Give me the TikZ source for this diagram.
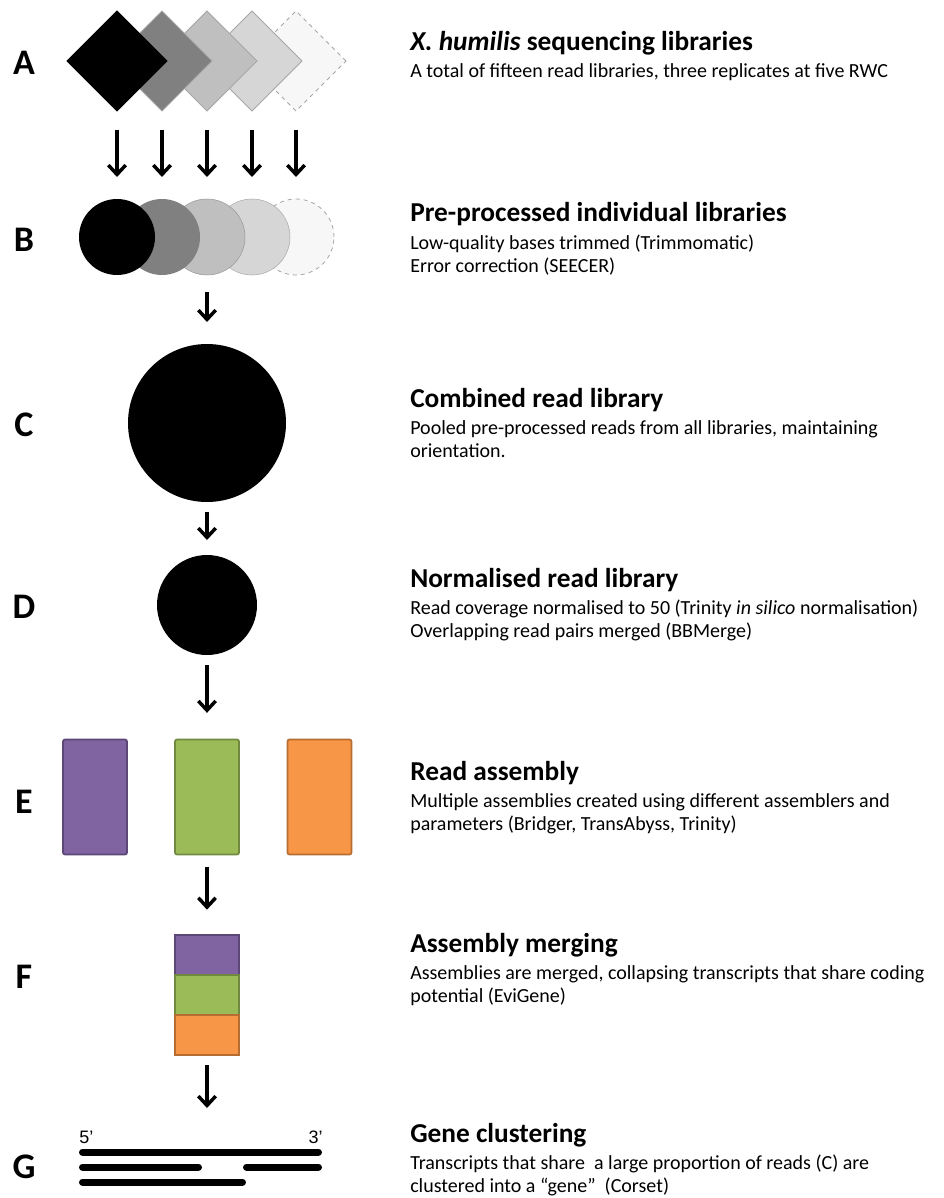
\documentclass[tikz,border=0pt]{standalone}
\usepackage{fontspec}
\setmainfont{Carlito}
\newfontfamily\arialfont{Liberation Sans}
\usetikzlibrary{arrows.meta,positioning,shapes.geometric}
\definecolor{shade1}{HTML}{000000}
\definecolor{shade2}{HTML}{808080}
\definecolor{shade3}{HTML}{BFBFBF}
\definecolor{shade4}{HTML}{D6D6D6}
\definecolor{shade5}{HTML}{F7F7F7}
\definecolor{rim}{HTML}{A6A6A6}
\definecolor{purple}{HTML}{8064A2}
\definecolor{purpleline}{HTML}{5C4776}
\definecolor{leaf}{HTML}{9BBB59}
\definecolor{leafline}{HTML}{71893F}
\definecolor{orange}{HTML}{F79646}
\definecolor{orangeline}{HTML}{B66D31}

\begin{document}
\begin{tikzpicture}[x=0.75pt,y=-0.75pt,
  letter/.style={font=\fontsize{27}{30}\selectfont\bfseries,anchor=center},
  title/.style={font=\fontsize{20.5}{24}\selectfont\bfseries,anchor=base west,inner sep=0},
  desc/.style={font=\fontsize{15}{17.6}\selectfont,anchor=base west,align=left,inner sep=0},
  lib/.style={diamond,minimum size=75pt,inner sep=0,outer sep=0,draw=rim,line width=0.6pt},
  read/.style={circle,inner sep=0,outer sep=0},
  block/.style={rectangle,rounded corners=1.5pt,minimum width=48pt,inner sep=0,outer sep=0,line width=1.3pt},
  arrow/.style={-{Straight Barb[length=7pt,width=13pt]},line width=2.6pt},
  strand/.style={line width=5.25pt,line cap=round}]
 \useasboundingbox (0,0) rectangle (943,1198);
 % stage letters
 \node[letter] (lA) at (24,63) {A};
 \node[letter] (lB) at (24,240) {B};
 \node[letter] (lC) at (24,425) {C};
 \node[letter] (lD) at (24,607) {D};
 \node[letter] (lE) at (24,802) {E};
 \node[letter] (lF) at (24,977) {F};
 \node[letter] (lG) at (24,1167) {G};
 % A: sequencing libraries (drawn back to front)
 \node[lib,fill=shade5,dashed] (dA5) at (296,61) {};
 \node[lib,fill=shade4] (dA4) at (252,61) {};
 \node[lib,fill=shade3] (dA3) at (207,61) {};
 \node[lib,fill=shade2] (dA2) at (162,61) {};
 \node[lib,fill=shade1,draw=black] (dA1) at (117,61) {};
 % B: pre-processed libraries
 \node[read,minimum size=57pt,fill=shade5,draw=rim,dashed,line width=0.6pt] (cB5) at (296,237) {};
 \node[read,minimum size=57pt,fill=shade4,draw=shade4!80!black,line width=0.4pt] (cB4) at (252,237) {};
 \node[read,minimum size=57pt,fill=shade3,draw=shade3!80!black,line width=0.4pt] (cB3) at (207,237) {};
 \node[read,minimum size=57pt,fill=shade2] (cB2) at (162,237) {};
 \node[read,minimum size=57pt,fill=shade1] (cB1) at (117,237) {};
 \foreach \i in {1,...,5}
  \draw[arrow,shorten <=14pt,shorten >=16.5pt] (dA\i) -- (cB\i);
 % C and D: combined and normalised
 \node[read,minimum size=118.5pt,fill=black] (cC) at (207,423) {};
 \node[read,minimum size=75pt,fill=black] (cD) at (207,605) {};
 \draw[arrow,shorten <=12.75pt,shorten >=16.5pt] (cB3) -- (cC);
 \draw[arrow,shorten <=7.5pt,shorten >=11.25pt] (cC) -- (cD);
 % E: assemblies
 \node[block,minimum height=86.25pt,fill=purple,draw=purpleline] (rE1) at (95,797) {};
 \node[block,minimum height=86.25pt,fill=leaf,draw=leafline] (rE2) at (207,797) {};
 \node[block,minimum height=86.25pt,fill=orange,draw=orangeline] (rE3) at (319.5,797) {};
 \draw[arrow,shorten <=7.5pt,shorten >=20pt] (cD) -- (rE2);
 % F: merged assembly
 \node[block,rounded corners=0pt,minimum height=30pt,fill=purple,draw=purpleline] (fF1) at (207,955) {};
 \node[block,rounded corners=0pt,minimum height=30pt,fill=leaf,draw=leafline] (fF2) at (207,995) {};
 \node[block,rounded corners=0pt,minimum height=30pt,fill=orange,draw=orangeline] (fF3) at (207,1035) {};
 \draw[arrow,shorten <=9pt,shorten >=19pt] (rE2) -- (fF1);
 % G: gene clusters
 \coordinate (gIn) at (207,1108);
 \draw[arrow,shorten <=7.5pt] (fF3) -- (gIn);
 \draw[strand] (82.5,1152) -- (318.5,1152);
 \draw[strand] (82.5,1167) -- (198.5,1167);
 \draw[strand] (246.5,1167) -- (318.5,1167);
 \draw[strand] (82.5,1182) -- (242.5,1182);
 \node[font=\arialfont\fontsize{13.5}{15}\selectfont,anchor=base west,inner sep=0] (five) at (79,1143) {5’};
 \node[font=\arialfont\fontsize{13.5}{15}\selectfont,anchor=base east,inner sep=0] (three) at (323,1143) {3’};
 % stage texts (desc nodes sit on their last line)
 \node[title] (tA) at (410,51) {\textit{X. humilis} sequencing libraries};
 \node[desc] (xA) at (410,78) {A total of fifteen read libraries, three replicates at five RWC};
 \node[title] (tB) at (410,222) {Pre-processed individual libraries};
 \node[desc] (xB) at (410,272.5) {Low-quality bases trimmed (Trimmomatic)\\Error correction (SEECER)};
 \node[title] (tC) at (410,407) {Combined read library};
 \node[desc] (xC) at (410,457.5) {Pooled pre-processed reads from all libraries, maintaining\\orientation.};
 \node[title] (tD) at (410,587) {Normalised read library};
 \node[desc] (xD) at (410,637.5) {Read coverage normalised to 50 (Trinity \textit{in silico} normalisation)\\Overlapping read pairs merged (BBMerge)};
 \node[title] (tE) at (410,780) {Read assembly};
 \node[desc] (xE) at (410,830.5) {Multiple assemblies created using different assemblers and\\parameters (Bridger, TransAbyss, Trinity)};
 \node[title] (tF) at (410,952) {Assembly merging};
 \node[desc] (xF) at (410,1002.5) {Assemblies are merged, collapsing transcripts that share coding\\potential (EviGene)};
 \node[title] (tG) at (410,1142) {Gene clustering};
 \node[desc] (xG) at (410,1192.5) {Transcripts that share\ \ a large proportion of reads (C) are\\clustered into a “gene”\ \ (Corset)};
\end{tikzpicture}
\end{document}
